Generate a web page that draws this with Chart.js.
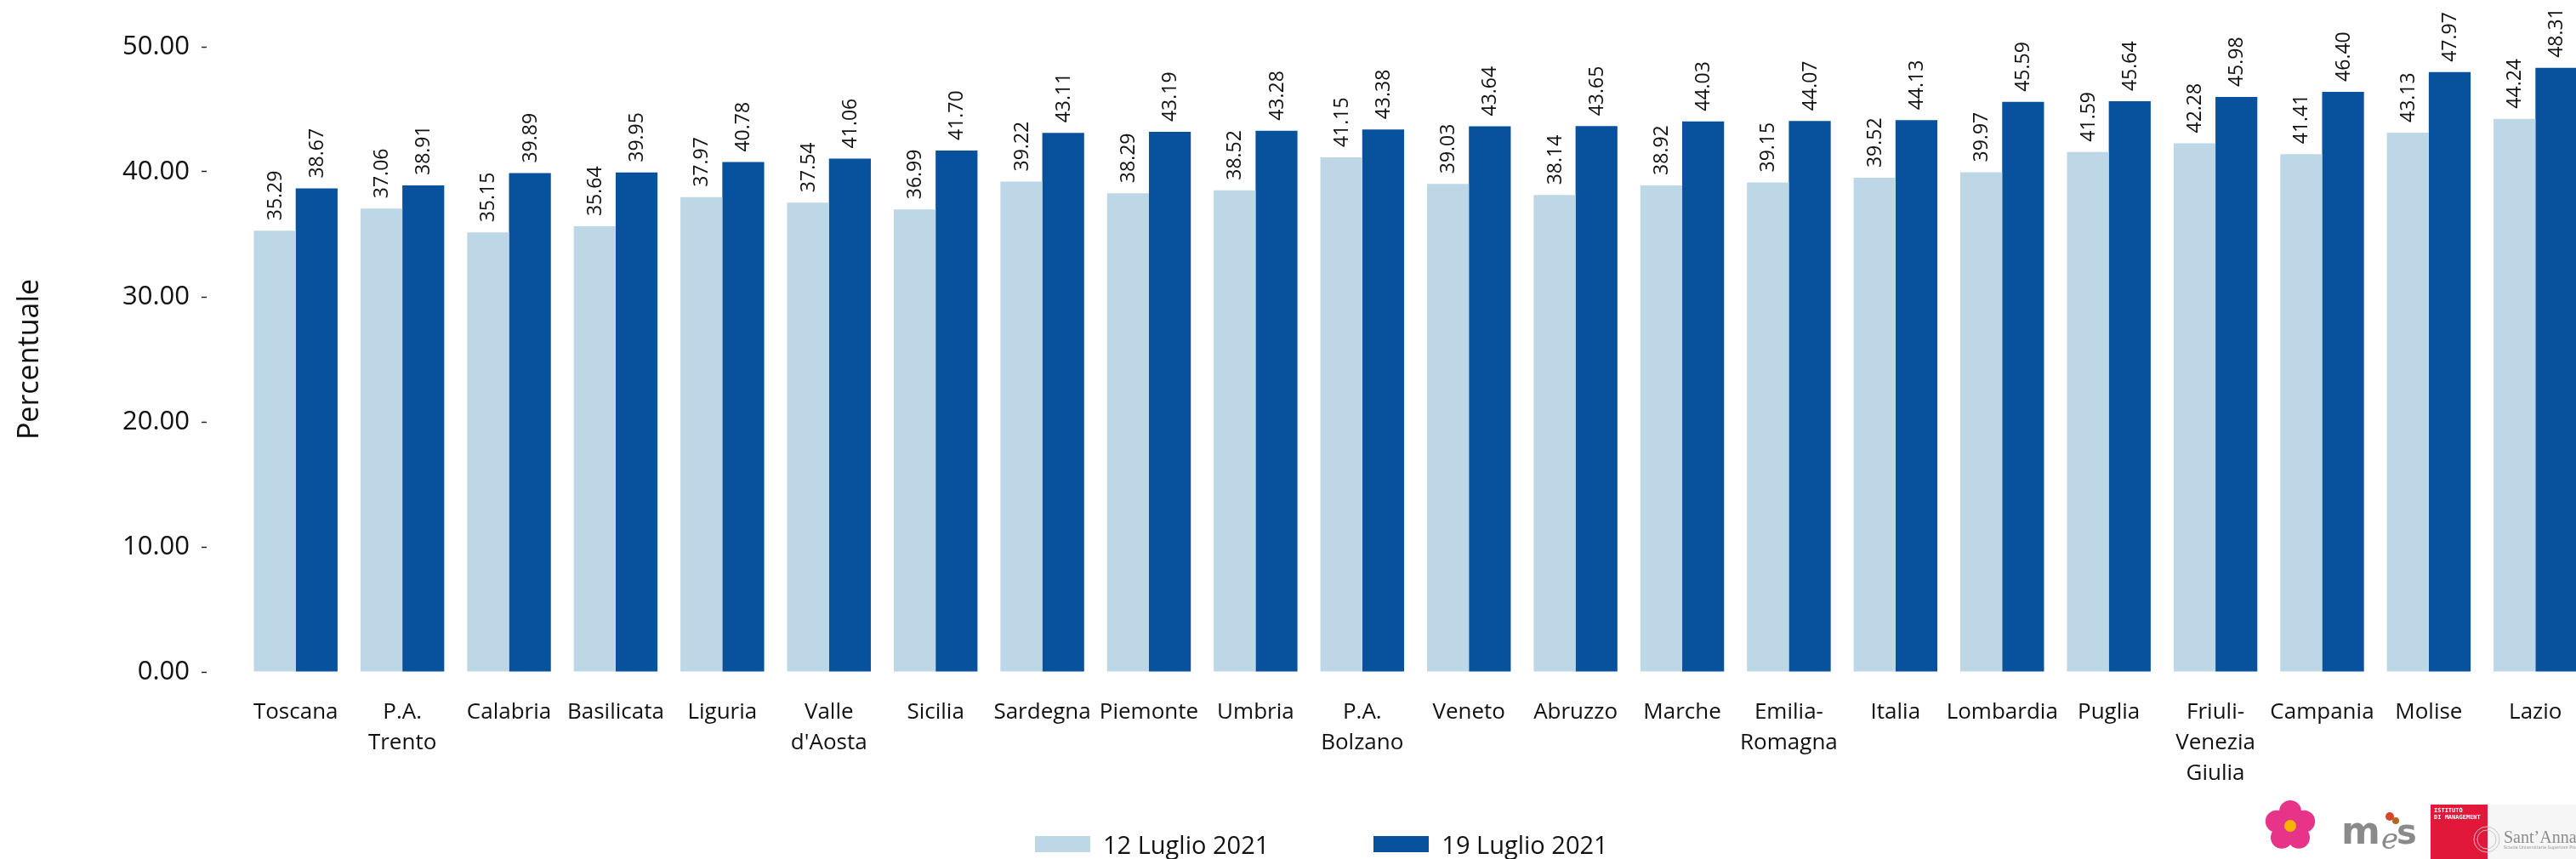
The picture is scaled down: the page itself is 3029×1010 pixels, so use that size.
<!DOCTYPE html>
<html lang="it">
<head>
<meta charset="utf-8">
<title>Percentuale per regione - 12 e 19 Luglio 2021</title>
<script src="https://cdn.jsdelivr.net/npm/chart.js@4.4.1/dist/chart.umd.min.js"></script>
<style>
  html, body { margin: 0; padding: 0; background: #fff; overflow: hidden; }
  #wrap { position: absolute; left: 0; top: 0; width: 3046px; height: 1010px; }
  #legenda { position: absolute; left: 1217px; top: 973px; display: flex; align-items: center;
             font-family: "Open Sans", sans-serif; font-size: 29px; color: #111; }
  #legenda .voce { display: flex; align-items: center; margin-right: 123px; }
  #legenda .box { width: 65px; height: 19px; margin-right: 15px; }
  #loghi { position: absolute; left: 2650px; top: 940px; }
</style>
</head>
<body>
<div id="wrap">
  <canvas id="grafico" width="3046" height="1010"></canvas>
</div>
<div id="legenda"></div>
<canvas id="loghi" width="380" height="70"></canvas>

<script>
const regioni = [
  'Toscana', ['P.A.', 'Trento'], 'Calabria', 'Basilicata', 'Liguria', ['Valle', "d'Aosta"],
  'Sicilia', 'Sardegna', 'Piemonte', 'Umbria', ['P.A.', 'Bolzano'], 'Veneto', 'Abruzzo',
  'Marche', ['Emilia-', 'Romagna'], 'Italia', 'Lombardia', 'Puglia', ['Friuli-', 'Venezia', 'Giulia'],
  'Campania', 'Molise', 'Lazio'
];
const luglio12 = [35.29, 37.06, 35.15, 35.64, 37.97, 37.54, 36.99, 39.22, 38.29, 38.52, 41.15,
                  39.03, 38.14, 38.92, 39.15, 39.52, 39.97, 41.59, 42.28, 41.41, 43.13, 44.24];
const luglio19 = [38.67, 38.91, 39.89, 39.95, 40.78, 41.06, 41.70, 43.11, 43.19, 43.28, 43.38,
                  43.64, 43.65, 44.03, 44.07, 44.13, 45.59, 45.64, 45.98, 46.40, 47.97, 48.31];
const yTicks = [0, 10, 20, 30, 40, 50];

Chart.defaults.font.family = '"Open Sans", sans-serif';
Chart.defaults.color = '#111';

// valori sopra le barre, ruotati di 90 gradi
const etichette = {
  id: 'etichette',
  afterDatasetsDraw(chart) {
    const ctx = chart.ctx;
    ctx.save();
    ctx.font = '23px "Open Sans", sans-serif';
    ctx.fillStyle = '#111';
    ctx.textAlign = 'left';
    ctx.textBaseline = 'middle';
    chart.data.datasets.forEach((ds, i) => {
      chart.getDatasetMeta(i).data.forEach((bar, j) => {
        ctx.save();
        ctx.translate(bar.x + 1, bar.y - 12);
        ctx.rotate(-Math.PI / 2);
        ctx.fillText(ds.data[j].toFixed(2), 0, 0);
        ctx.restore();
      });
    });
    ctx.restore();
  }
};

const chart = new Chart(document.getElementById('grafico'), {
  type: 'bar',
  data: {
    labels: regioni,
    datasets: [
      { label: '12 Luglio 2021', data: luglio12, backgroundColor: '#bdd7e7',
        barPercentage: 1, categoryPercentage: 0.785 },
      { label: '19 Luglio 2021', data: luglio19, backgroundColor: '#08519c',
        barPercentage: 1, categoryPercentage: 0.785 }
    ]
  },
  options: {
    responsive: false,
    animation: false,
    devicePixelRatio: 1,
    layout: { padding: { top: 55, right: 2, left: 0, bottom: 0 } },
    scales: {
      x: {
        grid: { display: false, drawTicks: false },
        border: { display: false },
        ticks: { color: '#111', font: { size: 26, lineHeight: 1.4 }, padding: 29,
                 maxRotation: 0, autoSkip: false },
        afterFit: s => { s.height = 220; }
      },
      y: {
        min: 0, max: 50,
        border: { display: false },
        // il trattino del tick sta vicino all'etichetta, lontano dalle barre
        grid: { drawOnChartArea: false, drawTicks: true, tickLength: 48, tickColor: '#222',
                tickWidth: 1.5, tickBorderDash: [6, 100] },
        afterBuildTicks: s => { s.ticks = yTicks.map(v => ({ value: v })); },
        ticks: { padding: 14, color: '#111', font: { size: 31 }, callback: v => v.toFixed(2) },
        title: { display: true, text: 'Percentuale', color: '#111', font: { size: 34 },
                 padding: { top: 15, bottom: 0 } },
        afterFit: s => { s.width = 285; }
      }
    },
    plugins: {
      legend: { display: false },
      tooltip: { enabled: false }
    }
  },
  plugins: [etichette]
});

// legenda in HTML, presa dai dataset
const legenda = document.getElementById('legenda');
chart.data.datasets.forEach(ds => {
  const voce = document.createElement('div');
  voce.className = 'voce';
  const box = document.createElement('span');
  box.className = 'box';
  box.style.background = ds.backgroundColor;
  const txt = document.createElement('span');
  txt.textContent = ds.label;
  voce.appendChild(box);
  voce.appendChild(txt);
  legenda.appendChild(voce);
});

// loghi in basso a destra (approssimati)
function disegnaLoghi() {
  const c = document.getElementById('loghi').getContext('2d');
  // fiore
  c.fillStyle = '#e8338a';
  for (let k = 0; k < 5; k++) {
    const a = -Math.PI / 2 + k * 2 * Math.PI / 5;
    c.beginPath();
    c.arc(43 + Math.cos(a) * 17, 31 + Math.sin(a) * 17, 13, 0, 2 * Math.PI);
    c.fill();
  }
  c.fillStyle = '#f8b400';
  c.beginPath();
  c.arc(43, 31, 7, 0, 2 * Math.PI);
  c.fill();

  // mes
  c.fillStyle = '#8a8a8a';
  c.textBaseline = 'alphabetic';
  c.font = 'bold 44px "DejaVu Sans", sans-serif';
  c.fillText('m', 103, 52);
  c.font = 'italic 34px "DejaVu Serif", serif';
  c.fillText('e', 150, 58);
  c.font = 'bold 40px "DejaVu Sans", sans-serif';
  c.fillText('s', 168, 52);
  c.fillStyle = '#d9452b';
  c.beginPath();
  c.arc(160, 20, 5, 0, 2 * Math.PI);
  c.fill();
  c.fillStyle = '#b5651d';
  c.beginPath();
  c.arc(167, 25, 4, 0, 2 * Math.PI);
  c.fill();

  // Sant'Anna
  c.fillStyle = '#f6f6f6';
  c.fillRect(275, 6, 105, 64);
  c.fillStyle = '#e2183a';
  c.fillRect(208, 6, 67, 64);
  c.fillStyle = '#fff';
  c.font = 'bold 7px "DejaVu Sans Mono", monospace';
  c.fillText('ISTITUTO', 212, 15);
  c.fillText('DI MANAGEMENT', 212, 23);
  c.strokeStyle = '#c8c8c8';
  c.lineWidth = 1;
  c.beginPath();
  c.arc(274, 47, 15, 0, 2 * Math.PI);
  c.stroke();
  c.beginPath();
  c.arc(274, 47, 11, 0, 2 * Math.PI);
  c.stroke();
  c.fillStyle = '#8c8c8c';
  c.font = '20px "Liberation Serif", serif';
  c.fillText('Sant\u2019Anna', 294, 51);
  c.font = '5px "DejaVu Sans", sans-serif';
  c.fillText('Scuola Universitaria Superiore Pisa', 294, 58);
}
disegnaLoghi();
</script>
</body>
</html>
